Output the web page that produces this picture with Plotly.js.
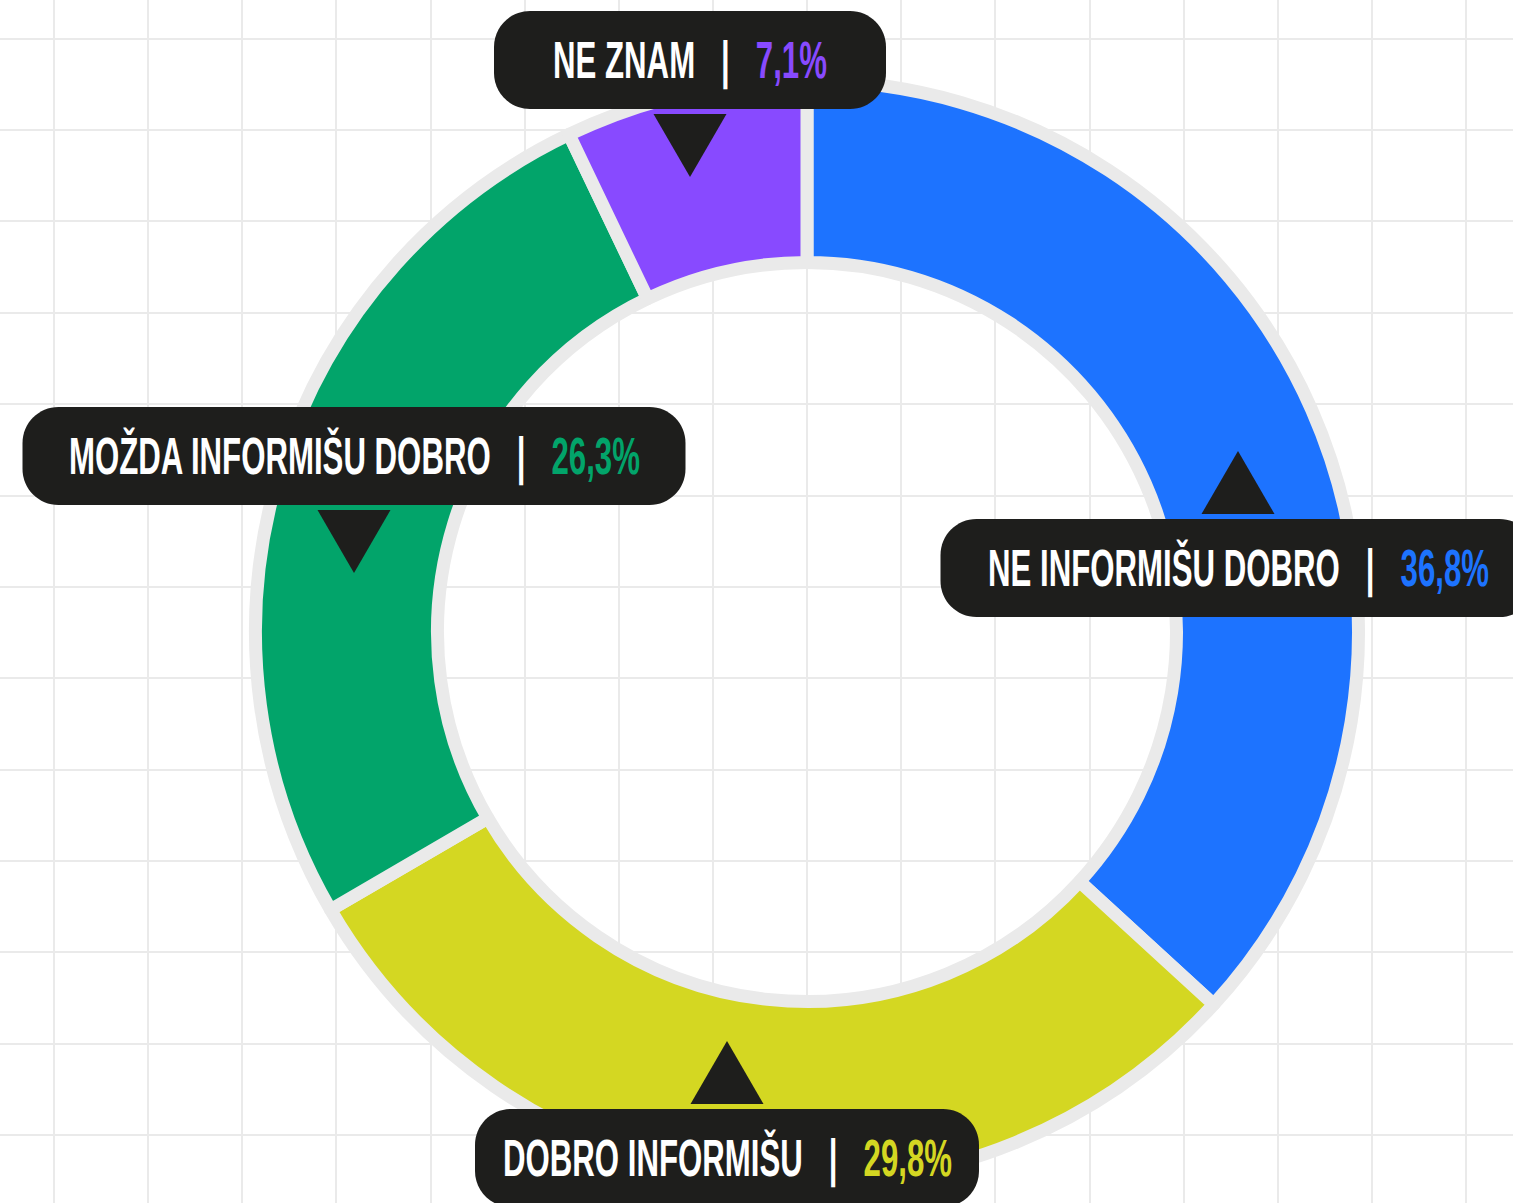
<!DOCTYPE html>
<html>
<head>
<meta charset="utf-8">
<script src="https://cdn.plot.ly/plotly-3.0.1.min.js"></script>
<style>
  html, body { margin: 0; padding: 0; background: #ffffff; }
  #chart { width: 1513px; height: 1203px; }
  /* condense the label font horizontally, like the narrow typeface of the reference */
  .annotation-text { transform-box: fill-box; transform-origin: center; transform: scaleX(0.6); }
</style>
</head>
<body>
<div id="chart"></div>
<script>
// ---- data ----
const categories = ['NE INFORMIŠU DOBRO', 'DOBRO INFORMIŠU', 'MOŽDA INFORMIŠU DOBRO', 'NE ZNAM'];
const values = [36.8, 29.8, 26.3, 7.1];
const sliceColors = ['#1D73FF', '#D4D722', '#02A46A', '#884AFF'];

// ---- layout settings (pixels) ----
const W = 1513, H = 1203;
const center = { x: 807, y: 632 };
const pieR = 551.5;          // domain radius
const holeRatio = 0.67;
const sepWidth = 13;
const ringGray = '#EAEAEA';
const boxColor = '#1E1E1C';
const boxH = 98, boxRadius = 36;
const triW = 73, triH = 63, triGap = 5;
const labelLayout = [
  { cx: 1238, cy: 568, w: 595, dir: 'up' },
  { cx: 727,  cy: 1158, w: 504, dir: 'up' },
  { cx: 354,  cy: 456, w: 663, dir: 'down' },
  { cx: 690,  cy: 60,  w: 392, dir: 'down' }
];

function fmtPct(v) { return v.toFixed(1).replace('.', ',') + '%'; }

function roundedRect(x0, y0, x1, y1, r) {
  const k = r * 0.5523;
  return 'M' + (x0 + r) + ',' + y0 +
    ' L' + (x1 - r) + ',' + y0 +
    ' C' + (x1 - r + k) + ',' + y0 + ' ' + x1 + ',' + (y0 + r - k) + ' ' + x1 + ',' + (y0 + r) +
    ' L' + x1 + ',' + (y1 - r) +
    ' C' + x1 + ',' + (y1 - r + k) + ' ' + (x1 - r + k) + ',' + y1 + ' ' + (x1 - r) + ',' + y1 +
    ' L' + (x0 + r) + ',' + y1 +
    ' C' + (x0 + r - k) + ',' + y1 + ' ' + x0 + ',' + (y1 - r + k) + ' ' + x0 + ',' + (y1 - r) +
    ' L' + x0 + ',' + (y0 + r) +
    ' C' + x0 + ',' + (y0 + r - k) + ' ' + (x0 + r - k) + ',' + y0 + ' ' + (x0 + r) + ',' + y0 + ' Z';
}

const sep = '\u00A0\u00A0\u00A0|\u00A0\u00A0\u00A0';
const shapes = [];
const annotations = [];
categories.forEach(function (cat, i) {
  const L = labelLayout[i];
  const x0 = L.cx - L.w / 2, x1 = L.cx + L.w / 2;
  const y0 = L.cy - boxH / 2, y1 = L.cy + boxH / 2;
  shapes.push({ type: 'path', xref: 'x', yref: 'y', path: roundedRect(x0, y0, x1, y1, boxRadius),
    fillcolor: boxColor, line: { width: 0 }, layer: 'above' });
  let tri;
  if (L.dir === 'up') {
    const by = y0 - triGap;
    tri = 'M' + (L.cx - triW / 2) + ',' + by + ' L' + (L.cx + triW / 2) + ',' + by + ' L' + L.cx + ',' + (by - triH) + ' Z';
  } else {
    const by = y1 + triGap;
    tri = 'M' + (L.cx - triW / 2) + ',' + by + ' L' + (L.cx + triW / 2) + ',' + by + ' L' + L.cx + ',' + (by + triH) + ' Z';
  }
  shapes.push({ type: 'path', xref: 'x', yref: 'y', path: tri, fillcolor: boxColor, line: { width: 0 }, layer: 'above' });
  annotations.push({
    xref: 'x', yref: 'y', x: L.cx, y: L.cy, xanchor: 'center', yanchor: 'middle', showarrow: false,
    text: cat + sep + '<span style="color:' + sliceColors[i] + '">' + fmtPct(values[i]) + '</span>',
    font: { family: 'Liberation Sans, Arial, sans-serif', size: 52, weight: 700, color: '#FFFFFF' }
  });
});

const pieTrace = {
  type: 'pie',
  labels: categories,
  values: values,
  sort: false,
  direction: 'clockwise',
  rotation: 0,
  hole: holeRatio,
  textinfo: 'none',
  hoverinfo: 'skip',
  showlegend: false,
  marker: { colors: sliceColors, line: { color: ringGray, width: sepWidth } },
  domain: {
    x: [(center.x - pieR) / W, (center.x + pieR) / W],
    y: [(H - center.y - pieR) / H, (H - center.y + pieR) / H]
  }
};

// invisible helper trace so the pixel-scaled grid axes are drawn
const gridTrace = { type: 'scatter', x: [0], y: [0], mode: 'markers', marker: { opacity: 0 }, hoverinfo: 'skip', showlegend: false };

const layout = {
  width: W, height: H,
  margin: { l: 0, r: 0, t: 0, b: 0, pad: 0 },
  paper_bgcolor: '#FFFFFF', plot_bgcolor: '#FFFFFF',
  showlegend: false,
  hovermode: false,
  xaxis: { range: [0, W], tick0: 54, dtick: 94.14, showgrid: true, gridcolor: '#EAEAEA', gridwidth: 2,
           zeroline: false, showline: false, showticklabels: false, ticks: '', fixedrange: true },
  yaxis: { range: [H, 0], tick0: 38.7, dtick: 91.37, showgrid: true, gridcolor: '#EAEAEA', gridwidth: 2,
           zeroline: false, showline: false, showticklabels: false, ticks: '', fixedrange: true },
  shapes: shapes,
  annotations: annotations
};

Plotly.newPlot('chart', [gridTrace, pieTrace], layout, { displayModeBar: false, staticPlot: true });
</script>
</body>
</html>
